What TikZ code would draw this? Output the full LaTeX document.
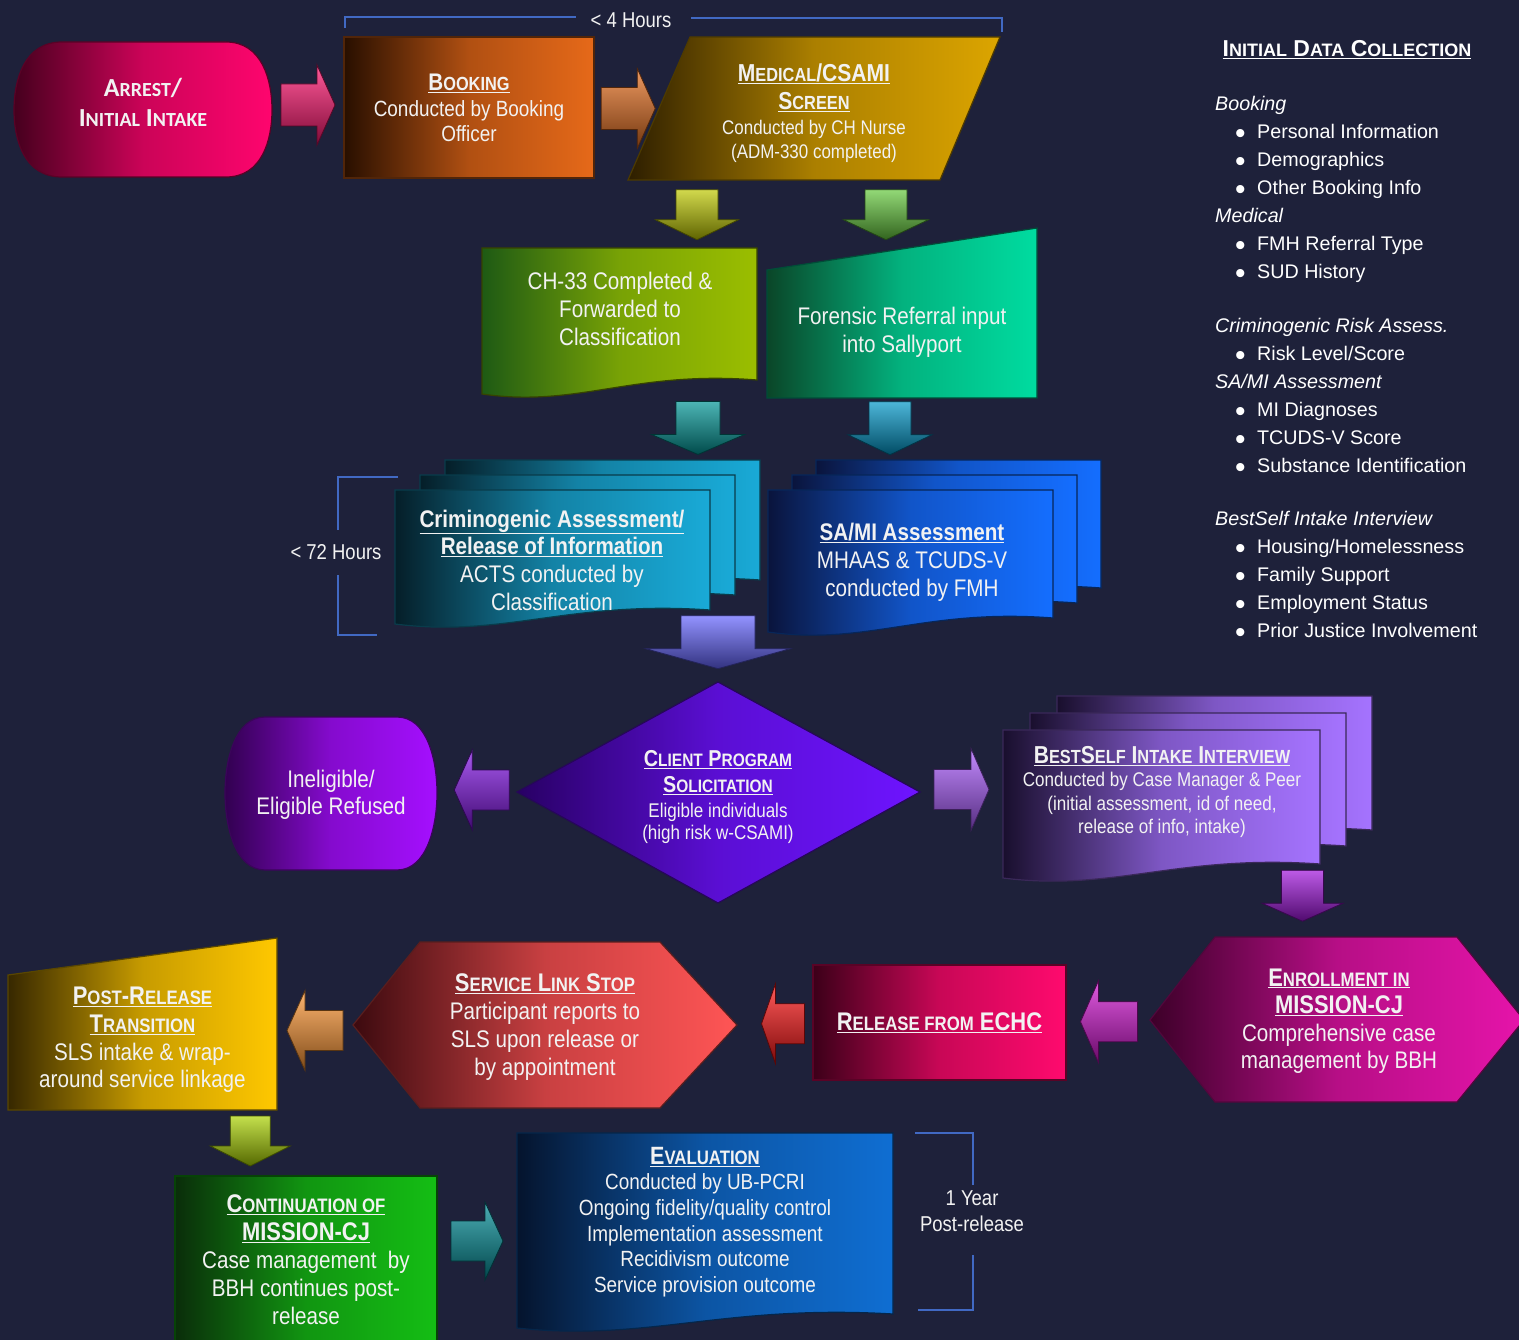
\documentclass[tikz,border=0pt]{standalone}
\usepackage{fontspec}
\setmainfont{Liberation Sans}[FakeStretch=0.86]
\newfontfamily\panelfont{Liberation Sans}
\newfontfamily\calfont{Carlito}
\usetikzlibrary{calc}
\newcommand\Sc[2]{{\fontsize{#1}{#1}\selectfont #2}}
\definecolor{bg}{RGB}{30,33,58}
\definecolor{brk}{RGB}{65,105,195}
\definecolor{txtc}{RGB}{242,242,242}
\definecolor{arrL}{RGB}{70,0,30}\definecolor{arrR}{RGB}{255,5,110}
\definecolor{bokL}{RGB}{40,15,0}\definecolor{bokR}{RGB}{230,105,25}
\definecolor{medL}{RGB}{45,30,0}\definecolor{medR}{RGB}{220,165,0}
\definecolor{chL}{RGB}{30,90,20}\definecolor{chR}{RGB}{155,190,0}
\definecolor{forL}{RGB}{10,70,40}\definecolor{forR}{RGB}{0,220,160}
\definecolor{criL}{RGB}{5,30,40}\definecolor{criR}{RGB}{25,170,215}
\definecolor{samL}{RGB}{10,20,60}\definecolor{samR}{RGB}{20,110,255}
\definecolor{solL}{RGB}{40,0,100}\definecolor{solR}{RGB}{110,20,255}
\definecolor{ineL}{RGB}{50,0,80}\definecolor{ineR}{RGB}{165,15,255}
\definecolor{besL}{RGB}{25,15,45}\definecolor{besR}{RGB}{165,115,255}
\definecolor{enrL}{RGB}{60,0,40}\definecolor{enrR}{RGB}{230,20,170}
\definecolor{relL}{RGB}{60,0,25}\definecolor{relR}{RGB}{255,10,110}
\definecolor{slsL}{RGB}{60,10,15}\definecolor{slsR}{RGB}{255,85,85}
\definecolor{posL}{RGB}{55,40,0}\definecolor{posR}{RGB}{255,200,0}
\definecolor{conL}{RGB}{10,45,10}\definecolor{conR}{RGB}{20,190,20}
\definecolor{evaL}{RGB}{5,20,45}\definecolor{evaR}{RGB}{15,110,210}
% arrow colours
\definecolor{aPink}{RGB}{255,20,110}
\definecolor{aOrange}{RGB}{230,110,30}
\definecolor{aYG}{RGB}{190,200,0}
\definecolor{aGreen}{RGB}{100,200,60}
\definecolor{aTeal}{RGB}{0,150,150}
\definecolor{aCyan}{RGB}{0,150,200}
\definecolor{aPeri}{RGB}{100,100,255}
\definecolor{aPurple}{RGB}{130,20,230}
\definecolor{aViolet}{RGB}{170,90,255}
\definecolor{aPlum}{RGB}{160,20,220}
\definecolor{aMag}{RGB}{210,20,210}
\definecolor{aRed}{RGB}{255,20,20}
\definecolor{aOr2}{RGB}{255,150,50}
\definecolor{aYG2}{RGB}{170,210,0}
\definecolor{aTeal2}{RGB}{0,140,150}
\newcommand\docshape[5]{%
  \path[#5] (#1,#2) -- (#3,#2) -- ({#3},{#4-18})
    .. controls ({#3-0.45*(#3-#1)},{#4-28}) and ({#1+0.35*(#3-#1)},{#4+10}) .. ({#1},{#4-4}) -- cycle;}
\newcommand\bl{\hspace*{20pt}\makebox[22pt][l]{\raisebox{-5.5pt}{\fontsize{30}{28}\selectfont •}}}
\begin{document}
\begin{tikzpicture}[x=1pt,y=-1pt,
  shp/.style 2 args={left color=#1, right color=#2, middle color=#2!72!#1, draw=#2!35!black, line width=1.2pt},
  txt/.style={text=txtc, align=center, inner sep=0pt},
  lbl/.style={text=txtc, align=center, inner sep=0pt, font=\fontsize{21.5}{25}\selectfont},
  brkline/.style={draw=brk, line width=1.2pt},
  arw/.style={top color=#1!70!white, bottom color=#1!50!black, draw=#1!35!black, line width=0.8pt},
  pics/barrow/.style n args={5}{code={%
    \path[arw=#5] ({-#1/2},{-#3/2}) -- ({#1/2-#4},{-#3/2}) -- ({#1/2-#4},{-#2/2}) -- ({#1/2},0)
      -- ({#1/2-#4},{#2/2}) -- ({#1/2-#4},{#3/2}) -- ({-#1/2},{#3/2}) -- cycle;}}
]
\useasboundingbox[fill=bg] (0,0) rectangle (1519,1340);

% ---------- brackets ----------
\draw[brkline] (345,28) -- (345,17) -- (576,17);
\node[lbl] (hrs4) at (631,20) {< 4 Hours};
\draw[brkline] (691,18) -- (1002,18) -- (1002,32);
\draw[brkline] (398,477) -- (338,477) -- (338,530);
\node[lbl] (hrs72) at (336,552) {< 72 Hours};
\draw[brkline] (338,575) -- (338,635) -- (377,635);
\draw[brkline] (915,1133) -- (973,1133) -- (973,1185);
\node[lbl, font=\fontsize{21.5}{25.5}\selectfont] (year) at (972,1211) {1 Year\\Post-release};
\draw[brkline] (973,1255) -- (973,1310) -- (918,1310);

% ---------- shapes ----------
\path[shp={arrL}{arrR}] (62,42) -- (226,42) .. controls (262,42) and (272,80) .. (272,110)
  .. controls (272,140) and (262,177) .. (226,177) -- (62,177) .. controls (24,177) and (14,140) .. (14,110)
  .. controls (14,80) and (24,42) .. (62,42) -- cycle;
\path[shp={bokL}{bokR}] (344,37) rectangle (594,178);
\path[shp={medL}{medR}] (690,37) -- (1000,37) -- (940,180) -- (628,180) -- cycle;
\docshape{482}{248}{757}{398}{shp={chL}{chR}}
\path[shp={forL}{forR}] (767,270) -- (1037,228) -- (1037,398) -- (767,398) -- cycle;
\docshape{445}{460}{760}{598}{shp={criL}{criR}}
\docshape{420}{475}{735}{613}{shp={criL}{criR}}
\docshape{395}{490}{710}{628}{shp={criL}{criR}}
\docshape{816}{460}{1101}{606}{shp={samL}{samR}}
\docshape{792}{475}{1077}{621}{shp={samL}{samR}}
\docshape{768}{490}{1053}{636}{shp={samL}{samR}}
\path[shp={solL}{solR}] (517,792) -- (718,682) -- (920,792) -- (718,903) -- cycle;
\path[shp={ineL}{ineR}] (265,717) -- (397,717) .. controls (427,717) and (437,760) .. (437,793)
  .. controls (437,826) and (427,870) .. (397,870) -- (265,870) .. controls (235,870) and (225,826) .. (225,793)
  .. controls (225,760) and (235,717) .. (265,717) -- cycle;
\docshape{1057}{696}{1372}{848}{shp={besL}{besR}}
\docshape{1030}{713}{1346}{864}{shp={besL}{besR}}
\docshape{1003}{730}{1320}{882}{shp={besL}{besR}}
\path[shp={enrL}{enrR}] (1150,1020) -- (1215,937) -- (1457,937) -- (1524,1020) -- (1457,1102) -- (1215,1102) -- cycle;
\path[shp={relL}{relR}] (813,965) rectangle (1066,1080);
\path[shp={slsL}{slsR}] (353,1025) -- (420,942) -- (660,942) -- (737,1025) -- (660,1108) -- (420,1108) -- cycle;
\path[shp={posL}{posR}] (8,975) -- (277,938) -- (277,1110) -- (8,1110) -- cycle;
\path[shp={conL}{conR}] (175,1176) rectangle (437,1346);
\docshape{517}{1133}{893}{1332}{shp={evaL}{evaR}}

% ---------- text nodes ----------
\node[txt, minimum width=258, minimum height=135, font=\calfont\bfseries\fontsize{26}{30}\selectfont] (arrest) at (143,102)
  {A\Sc{20}{RREST}/\\I\Sc{20}{NITIAL} I\Sc{20}{NTAKE}};
\node[txt, minimum width=250, minimum height=141, font=\fontsize{22}{25.5}\selectfont] (booking) at (469,108)
  {{\fontsize{24}{25}\selectfont\textbf{\underline{B\Sc{19}{OOKING}}}}\\Conducted by Booking\\Officer};
\node[txt, minimum width=311, minimum height=143, font=\fontsize{19.7}{25.5}\selectfont] (medical) at (814,113)
  {{\fontsize{24.5}{25}\selectfont\textbf{\underline{M\Sc{19}{EDICAL}/CSAMI}}}\\[2pt]{\fontsize{24.5}{25}\selectfont\textbf{\underline{S\Sc{19}{CREEN}}}}\\Conducted by CH Nurse\\[-2pt](ADM-330 completed)};
\node[txt, minimum width=275, minimum height=120, font=\fontsize{24}{28}\selectfont] (ch33) at (620,309)
  {CH-33 Completed \&\\Forwarded to\\Classification};
\node[txt, minimum width=270, minimum height=130, font=\fontsize{24}{28}\selectfont] (forensic) at (902,332)
  {Forensic Referral input\\into Sallyport};
\node[txt, minimum width=315, minimum height=138, font=\fontsize{24}{27.7}\selectfont] (crim) at (552,560)
  {\textbf{\underline{Criminogenic Assessment/}}\\\textbf{\underline{Release of Information}}\\ACTS conducted by\\Classification};
\node[txt, minimum width=285, minimum height=145, font=\fontsize{24}{28}\selectfont] (sami) at (912,562)
  {\textbf{\underline{SA/MI Assessment}}\\MHAAS \& TCUDS-V\\conducted by FMH};
\node[txt, minimum width=403, minimum height=221, font=\fontsize{19.8}{24.3}\selectfont] (solic) at (718,797)
  {{\fontsize{23}{25}\selectfont\textbf{\underline{C\Sc{18}{LIENT} P\Sc{18}{ROGRAM}}}}\\[2pt]{\fontsize{23}{25}\selectfont\textbf{\underline{S\Sc{18}{OLICITATION}}}}\\Eligible individuals\\[-2pt](high risk w-CSAMI)};
\node[txt, minimum width=212, minimum height=153, font=\fontsize{24}{27}\selectfont] (inelig) at (331,795)
  {Ineligible/\\Eligible Refused};
\node[txt, minimum width=317, minimum height=150, font=\fontsize{19.8}{23.5}\selectfont] (bestself) at (1162,792)
  {{\fontsize{24.5}{25}\selectfont\textbf{\underline{B\Sc{19}{EST}S\Sc{19}{ELF} I\Sc{19}{NTAKE} I\Sc{19}{NTERVIEW}}}}\\Conducted by Case Manager \& Peer\\(initial assessment, id of need,\\release of info, intake)};
\node[txt, minimum width=374, minimum height=165, font=\fontsize{24}{27.5}\selectfont] (enroll) at (1339,1021)
  {{\fontsize{25.5}{26}\selectfont\textbf{\underline{E\Sc{19.5}{NROLLMENT IN}}}}\\{\fontsize{25.5}{26}\selectfont\textbf{\underline{MISSION-CJ}}}\\Comprehensive case\\management by BBH};
\node[txt, minimum width=253, minimum height=115, font=\fontsize{25.5}{28}\selectfont] (release) at (939.5,1022.5)
  {\textbf{\underline{R\Sc{19.5}{ELEASE FROM} ECHC}}};
\node[txt, minimum width=384, minimum height=166, font=\fontsize{24}{28}\selectfont] (sls) at (545,1027)
  {{\fontsize{25.5}{26}\selectfont\textbf{\underline{S\Sc{19.5}{ERVICE} L\Sc{19.5}{INK} S\Sc{19.5}{TOP}}}}\\Participant reports to\\SLS upon release or\\by appointment};
\node[txt, minimum width=269, minimum height=144, font=\fontsize{24}{27.7}\selectfont] (postrel) at (142.5,1040)
  {{\fontsize{25.5}{26}\selectfont\textbf{\underline{P\Sc{19.5}{OST}-R\Sc{19.5}{ELEASE}}}}\\{\fontsize{25.5}{26}\selectfont\textbf{\underline{T\Sc{19.5}{RANSITION}}}}\\SLS intake \& wrap-\\around service linkage};
\node[txt, minimum width=262, minimum height=164, font=\fontsize{24}{28}\selectfont] (cont) at (306,1260)
  {{\fontsize{25.5}{26}\selectfont\textbf{\underline{C\Sc{19.5}{ONTINUATION OF}}}}\\{\fontsize{25.5}{26}\selectfont\textbf{\underline{MISSION-CJ}}}\\Case management\ \ by\\BBH continues post-\\release};
\node[txt, minimum width=376, minimum height=175, font=\fontsize{22}{25.6}\selectfont] (eval) at (705,1222)
  {{\fontsize{25}{25}\selectfont\textbf{\underline{E\Sc{19.5}{VALUATION}}}}\\Conducted by UB-PCRI\\Ongoing fidelity/quality control\\Implementation assessment\\Recidivism outcome\\Service provision outcome};

% ---------- right panel ----------
\node[text=white, inner sep=0pt, font=\panelfont\bfseries\fontsize{23}{26}\selectfont] (dctitle) at (1347,50)
  {\underline{I\Sc{18}{NITIAL} D\Sc{18}{ATA} C\Sc{18}{OLLECTION}}};
\node[text=white, inner sep=0pt, anchor=north west, align=left, font=\panelfont\fontsize{19.7}{28}\selectfont] (dclist) at (1215,96)
  {\textit{Booking}\\
   \bl Personal Information\\
   \bl Demographics\\
   \bl Other Booking Info\\
   \textit{Medical}\\
   \bl FMH Referral Type\\
   \bl SUD History\\[26pt]
   \textit{Criminogenic Risk Assess.}\\
   \bl Risk Level/Score\\
   \textit{SA/MI Assessment}\\
   \bl MI Diagnoses\\
   \bl TCUDS-V Score\\
   \bl Substance Identification\\[25pt]
   \textit{BestSelf Intake Interview}\\
   \bl Housing/Homelessness\\
   \bl Family Support\\
   \bl Employment Status\\
   \bl Prior Justice Involvement};

% ---------- block-arrow connectors ----------
\pic at ($(arrest.east)!0.5!(booking.west)$) {barrow={54}{80}{42}{18}{aPink}};
\pic at ($(booking.east)!0.5!(medical.west)+(2,-2)$) {barrow={54}{80}{42}{18}{aOrange}};
\pic[rotate=-90] at ($(medical.south)!0.5!(ch33.north)+(-20,-2)$) {barrow={50}{83}{42}{20}{aYG}};
\pic[rotate=-90] at ($(medical.south)!0.5!(forensic.north)+(28,-11)$) {barrow={50}{85}{42}{20}{aGreen}};
\pic[rotate=-90] at ($(ch33.south)!0.5!(crim.north)+(112,-2)$) {barrow={53}{93}{44}{20}{aTeal}};
\pic[rotate=-90] at ($(forensic.south)!0.5!(sami.north)+(-17,-15)$) {barrow={53}{84}{42}{20}{aCyan}};
\pic[rotate=-90] at ($(solic.north |- crim.south)+(0,13)$) {barrow={53}{145}{74}{20}{aPeri}};
\pic[rotate=180] at ($(solic.west)!0.5!(inelig.east)+(5,-6)$) {barrow={55}{80}{40}{18}{aPurple}};
\pic at ($(solic.east)!0.5!(bestself.west)+(0,-5)$) {barrow={55}{82}{40}{18}{aViolet}};
\pic[rotate=-90] at ($(bestself.south)!0.5!(enroll.north)+(52,-7)$) {barrow={51}{81}{42}{18}{aPlum}};
\pic[rotate=180] at ($(enroll.west)!0.5!(release.east)$) {barrow={57}{82}{40}{18}{aMag}};
\pic[rotate=180] at ($(release.west)!0.5!(sls.east)+(8,-1)$) {barrow={43}{80}{40}{14}{aRed}};
\pic[rotate=180] at ($(sls.west)!0.5!(postrel.east)+(0,-3)$) {barrow={56}{80}{40}{18}{aOr2}};
\pic[rotate=-90] at ($(postrel.south)!0.5!(cont.north)+(26,-4)$) {barrow={50}{80}{40}{20}{aYG2}};
\pic at ($(cont.east)!0.5!(eval.west)$) {barrow={52}{78}{40}{18}{aTeal2}};
\end{tikzpicture}
\end{document}
